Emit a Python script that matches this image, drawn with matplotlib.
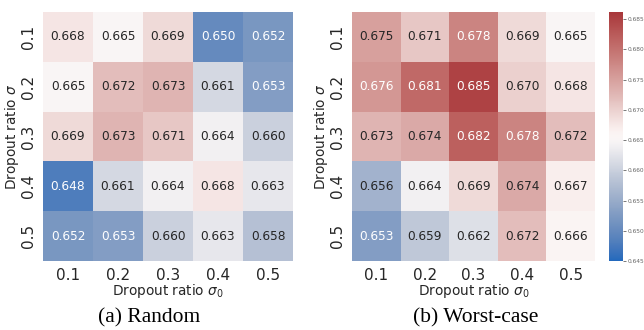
import numpy as np
import matplotlib
matplotlib.use("Agg")
import matplotlib.pyplot as plt
import seaborn as sns

# dropout ratios
ratios = ["0.1", "0.2", "0.3", "0.4", "0.5"]

# rows: sigma, cols: sigma_0
random_vals = np.array([
    [0.668, 0.665, 0.669, 0.650, 0.652],
    [0.665, 0.672, 0.673, 0.661, 0.653],
    [0.669, 0.673, 0.671, 0.664, 0.660],
    [0.648, 0.661, 0.664, 0.668, 0.663],
    [0.652, 0.653, 0.660, 0.663, 0.658],
])

worst_vals = np.array([
    [0.675, 0.671, 0.678, 0.669, 0.665],
    [0.676, 0.681, 0.685, 0.670, 0.668],
    [0.673, 0.674, 0.682, 0.678, 0.672],
    [0.656, 0.664, 0.669, 0.674, 0.667],
    [0.653, 0.659, 0.662, 0.672, 0.666],
])

captions = ["(a) Random", "(b) Worst-case"]

W, H = 644, 330
fig = plt.figure(figsize=(W / 100, H / 100), dpi=100)

def box(x0, y0, x1, y1):
    return [x0 / W, 1 - y1 / H, (x1 - x0) / W, (y1 - y0) / H]

ax1 = fig.add_axes(box(43, 12, 293, 261))
ax2 = fig.add_axes(box(352, 12, 595, 261))
cax = fig.add_axes(box(609, 12, 623, 261))

vmin, vmax = 0.645, 0.6862

for ax, vals, cap, cx in [(ax1, random_vals, captions[0], 149),
                          (ax2, worst_vals, captions[1], 476)]:
    sns.heatmap(vals, ax=ax, cmap="vlag", vmin=vmin, vmax=vmax,
                annot=True, fmt=".3f", annot_kws={"fontsize": 8.7},
                xticklabels=ratios, yticklabels=ratios,
                cbar=(ax is ax2), cbar_ax=cax if ax is ax2 else None)
    ax.set_xlabel(r"Dropout ratio $\sigma_0$", fontsize=9.8, color="#262626", labelpad=-1)
    ax.set_ylabel(r"Dropout ratio $\sigma$", fontsize=9.8, color="#262626", labelpad=0)
    ax.tick_params(axis="both", labelsize=11, colors="#262626", length=0, pad=5)
    plt.setp(ax.get_yticklabels(), rotation=90, va="center")
    plt.setp(ax.get_xticklabels(), rotation=0)
    fig.text(cx / W, 1 - 318 / H, cap, ha="center", va="center",
             fontsize=15.5, family="Liberation Serif")

cb_ticks = np.arange(0.645, 0.6851, 0.005)
cax.set_yticks(cb_ticks)
cax.set_yticklabels(["%.3f" % t for t in cb_ticks])
cax.tick_params(labelsize=4.2, length=2, width=0.5, colors="#444444", pad=1)
for t in cax.get_yticklabels():
    t.set_color("#666666")

fig.savefig("out.png", dpi=100)
